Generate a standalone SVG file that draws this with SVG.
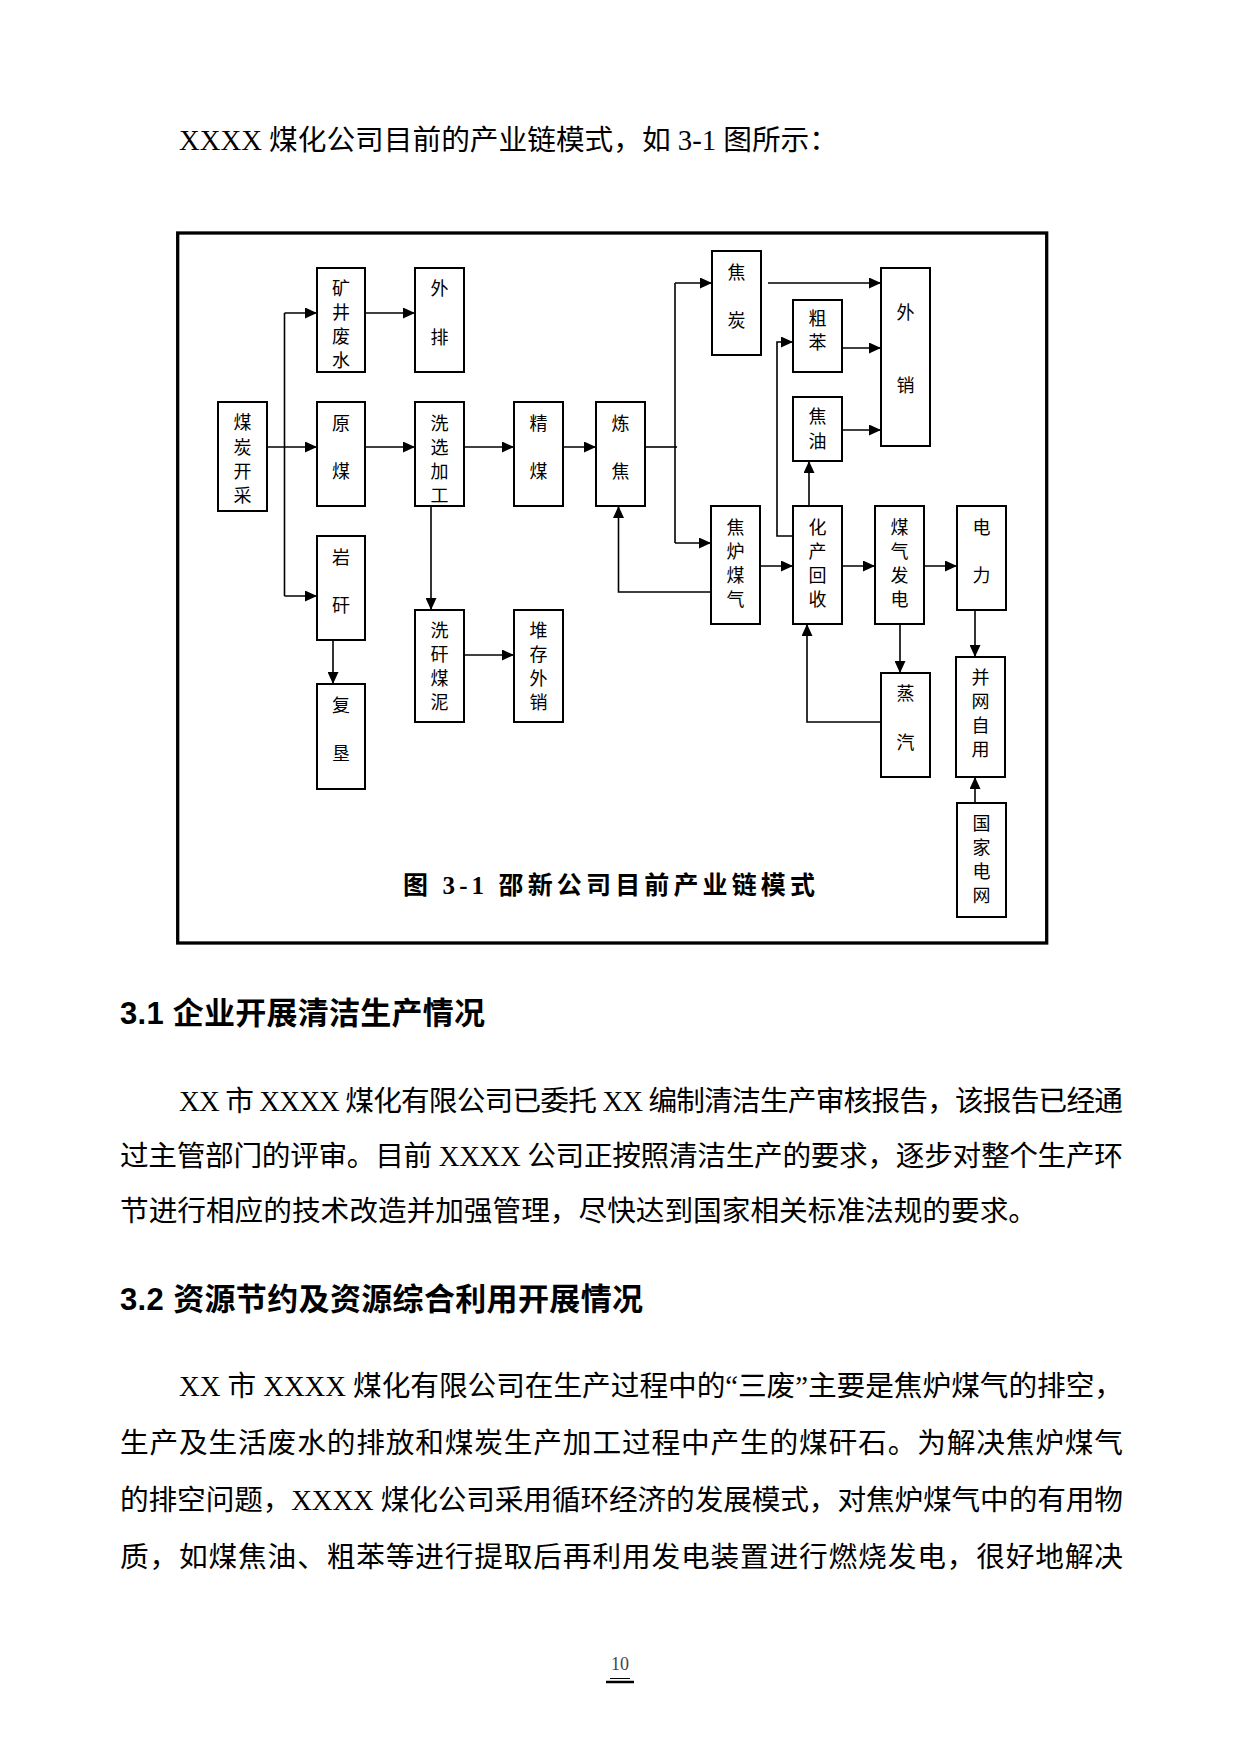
<svg xmlns="http://www.w3.org/2000/svg" width="1241" height="1754" viewBox="0 0 1241 1754">
<style>
.page{fill:#fff}
.frame{fill:none;stroke:#000;stroke-width:3.3}
.box{fill:#fff;stroke:#000;stroke-width:2}
.bt{font-family:"Noto Sans CJK SC","Noto Sans CJK JP",sans-serif;font-size:18px;fill:#000;text-anchor:middle}
.ln{fill:none;stroke:#000;stroke-width:1.6}
.body{font-family:"Liberation Serif","Noto Sans CJK SC",serif;font-size:28.7px;fill:#000}
.head{font-family:"Liberation Sans","Noto Sans CJK SC",sans-serif;font-size:31px;font-weight:bold;fill:#000}
.cap{font-family:"Liberation Serif","Noto Sans CJK SC",serif;font-size:25px;font-weight:bold;fill:#000}
.pn{font-family:"Liberation Serif",serif;font-size:18px;fill:#444;text-anchor:middle}
</style>
<defs>
<marker id="ah" markerUnits="userSpaceOnUse" viewBox="0 0 12 11" refX="12" refY="5.5" markerWidth="12" markerHeight="11" orient="auto">
<path d="M0,0 L12,5.5 L0,11 z" fill="#000"/>
</marker>
</defs>
<rect class="page" x="0" y="0" width="1241" height="1754"/>

<text class="body" x="179" y="150">XXXX 煤化公司目前的产业链模式，如 3-1 图所示：</text>

<rect class="frame" x="177.7" y="233" width="869" height="710"/>

<g id="connectors">
<polyline class="ln" points="267,447 317,447" marker-end="url(#ah)"/>
<polyline class="ln" points="284.5,313 284.5,596"/>
<polyline class="ln" points="284.5,313 317,313" marker-end="url(#ah)"/>
<polyline class="ln" points="284.5,596 317,596" marker-end="url(#ah)"/>
<polyline class="ln" points="365,313 415,313" marker-end="url(#ah)"/>
<polyline class="ln" points="365,447 415,447" marker-end="url(#ah)"/>
<polyline class="ln" points="464,447 514,447" marker-end="url(#ah)"/>
<polyline class="ln" points="563,447 596,447" marker-end="url(#ah)"/>
<polyline class="ln" points="431,506 431,610" marker-end="url(#ah)"/>
<polyline class="ln" points="464,655 514,655" marker-end="url(#ah)"/>
<polyline class="ln" points="333,640 333,684" marker-end="url(#ah)"/>
<polyline class="ln" points="645,447 677,447"/>
<polyline class="ln" points="675,283 675,543"/>
<polyline class="ln" points="675,283 712,283" marker-end="url(#ah)"/>
<polyline class="ln" points="675,543 711,543" marker-end="url(#ah)"/>
<polyline class="ln" points="768,283 881,283" marker-end="url(#ah)"/>
<polyline class="ln" points="842,348 881,348" marker-end="url(#ah)"/>
<polyline class="ln" points="842,430 881,430" marker-end="url(#ah)"/>
<polyline class="ln" points="809,506 809,461" marker-end="url(#ah)"/>
<polyline class="ln" points="793,536 777,536 777,342 793,342" marker-end="url(#ah)"/>
<polyline class="ln" points="760,566 793,566" marker-end="url(#ah)"/>
<polyline class="ln" points="842,566 875,566" marker-end="url(#ah)"/>
<polyline class="ln" points="924,566 957,566" marker-end="url(#ah)"/>
<polyline class="ln" points="711,592 618.5,592 618.5,506" marker-end="url(#ah)"/>
<polyline class="ln" points="900,624 900,673" marker-end="url(#ah)"/>
<polyline class="ln" points="881,722 807,722 807,624" marker-end="url(#ah)"/>
<polyline class="ln" points="975,610 975,657" marker-end="url(#ah)"/>
<polyline class="ln" points="975,803 975,777" marker-end="url(#ah)"/>
</g>

<g id="n-meitankaicai"><rect class="box" x="218" y="402" width="49" height="109"/>
<text class="bt" x="242.5" y="429">煤</text><text class="bt" x="242.5" y="454">炭</text><text class="bt" x="242.5" y="478">开</text><text class="bt" x="242.5" y="502">采</text></g>
<g id="n-kuangjingfeishui"><rect class="box" x="317" y="268" width="48" height="104"/>
<text class="bt" x="341" y="295">矿</text><text class="bt" x="341" y="319">井</text><text class="bt" x="341" y="343">废</text><text class="bt" x="341" y="367">水</text></g>
<g id="n-waipai"><rect class="box" x="415" y="268" width="49" height="104"/>
<text class="bt" x="439.5" y="295">外</text><text class="bt" x="439.5" y="344">排</text></g>
<g id="n-yuanmei"><rect class="box" x="317" y="402" width="48" height="104"/>
<text class="bt" x="341" y="430">原</text><text class="bt" x="341" y="478">煤</text></g>
<g id="n-xixuanjiagong"><rect class="box" x="415" y="402" width="49" height="104"/>
<text class="bt" x="439.5" y="430">洗</text><text class="bt" x="439.5" y="454">选</text><text class="bt" x="439.5" y="478">加</text><text class="bt" x="439.5" y="502">工</text></g>
<g id="n-jingmei"><rect class="box" x="514" y="402" width="49" height="104"/>
<text class="bt" x="538.5" y="430">精</text><text class="bt" x="538.5" y="478">煤</text></g>
<g id="n-lianjiao"><rect class="box" x="596" y="402" width="49" height="104"/>
<text class="bt" x="620.5" y="430">炼</text><text class="bt" x="620.5" y="478">焦</text></g>
<g id="n-jiaotan"><rect class="box" x="712" y="251" width="49" height="104"/>
<text class="bt" x="736.5" y="279">焦</text><text class="bt" x="736.5" y="327">炭</text></g>
<g id="n-cuben"><rect class="box" x="793" y="300" width="49" height="72"/>
<text class="bt" x="817.5" y="325">粗</text><text class="bt" x="817.5" y="349">苯</text></g>
<g id="n-jiaoyou"><rect class="box" x="793" y="397" width="49" height="64"/>
<text class="bt" x="817.5" y="423">焦</text><text class="bt" x="817.5" y="448">油</text></g>
<g id="n-waixiao"><rect class="box" x="881" y="268" width="49" height="178"/>
<text class="bt" x="905.5" y="319">外</text><text class="bt" x="905.5" y="392">销</text></g>
<g id="n-jiaolumeiqi"><rect class="box" x="711" y="506" width="49" height="118"/>
<text class="bt" x="735.5" y="534">焦</text><text class="bt" x="735.5" y="558">炉</text><text class="bt" x="735.5" y="582">煤</text><text class="bt" x="735.5" y="606">气</text></g>
<g id="n-huachanhuishou"><rect class="box" x="793" y="506" width="49" height="118"/>
<text class="bt" x="817.5" y="534">化</text><text class="bt" x="817.5" y="558">产</text><text class="bt" x="817.5" y="582">回</text><text class="bt" x="817.5" y="606">收</text></g>
<g id="n-meiqifadian"><rect class="box" x="875" y="506" width="49" height="118"/>
<text class="bt" x="899.5" y="534">煤</text><text class="bt" x="899.5" y="558">气</text><text class="bt" x="899.5" y="582">发</text><text class="bt" x="899.5" y="606">电</text></g>
<g id="n-dianli"><rect class="box" x="957" y="506" width="49" height="104"/>
<text class="bt" x="981.5" y="534">电</text><text class="bt" x="981.5" y="582">力</text></g>
<g id="n-zhengqi"><rect class="box" x="881" y="673" width="49" height="104"/>
<text class="bt" x="905.5" y="700">蒸</text><text class="bt" x="905.5" y="749">汽</text></g>
<g id="n-bingwangziyong"><rect class="box" x="956" y="657" width="49" height="120"/>
<text class="bt" x="980.5" y="684">并</text><text class="bt" x="980.5" y="708">网</text><text class="bt" x="980.5" y="732">自</text><text class="bt" x="980.5" y="756">用</text></g>
<g id="n-guojiadianwang"><rect class="box" x="957" y="803" width="49" height="114"/>
<text class="bt" x="981.5" y="830">国</text><text class="bt" x="981.5" y="854">家</text><text class="bt" x="981.5" y="878">电</text><text class="bt" x="981.5" y="902">网</text></g>
<g id="n-yangan"><rect class="box" x="317" y="536" width="48" height="104"/>
<text class="bt" x="341" y="564">岩</text><text class="bt" x="341" y="612">矸</text></g>
<g id="n-fuken"><rect class="box" x="317" y="684" width="48" height="105"/>
<text class="bt" x="341" y="712">复</text><text class="bt" x="341" y="760">垦</text></g>
<g id="n-xiganmeini"><rect class="box" x="415" y="610" width="49" height="112"/>
<text class="bt" x="439.5" y="637">洗</text><text class="bt" x="439.5" y="661">矸</text><text class="bt" x="439.5" y="685">煤</text><text class="bt" x="439.5" y="709">泥</text></g>
<g id="n-duicunwaixiao"><rect class="box" x="514" y="610" width="49" height="112"/>
<text class="bt" x="538.5" y="637">堆</text><text class="bt" x="538.5" y="661">存</text><text class="bt" x="538.5" y="685">外</text><text class="bt" x="538.5" y="709">销</text></g>

<text class="cap" x="403" y="894" textLength="412" lengthAdjust="spacing">图 3-1 邵新公司目前产业链模式</text>

<text class="head" x="120" y="1024" textLength="365" lengthAdjust="spacing">3.1 企业开展清洁生产情况</text>
<text class="body" x="179" y="1111" textLength="944" lengthAdjust="spacing">XX 市 XXXX 煤化有限公司已委托 XX 编制清洁生产审核报告，该报告已经通</text>
<text class="body" x="120" y="1166" textLength="1003" lengthAdjust="spacing">过主管部门的评审。目前 XXXX 公司正按照清洁生产的要求，逐步对整个生产环</text>
<text class="body" x="120" y="1221" textLength="917" lengthAdjust="spacing">节进行相应的技术改造并加强管理，尽快达到国家相关标准法规的要求。</text>

<text class="head" x="120" y="1310" textLength="523" lengthAdjust="spacing">3.2 资源节约及资源综合利用开展情况</text>
<text class="body" x="179" y="1396" textLength="944" lengthAdjust="spacing">XX 市 XXXX 煤化有限公司在生产过程中的“三废”主要是焦炉煤气的排空，</text>
<text class="body" x="120" y="1453" textLength="1003" lengthAdjust="spacing">生产及生活废水的排放和煤炭生产加工过程中产生的煤矸石。为解决焦炉煤气</text>
<text class="body" x="120" y="1510" textLength="1003" lengthAdjust="spacing">的排空问题，XXXX 煤化公司采用循环经济的发展模式，对焦炉煤气中的有用物</text>
<text class="body" x="120" y="1567" textLength="1003" lengthAdjust="spacing">质，如煤焦油、粗苯等进行提取后再利用发电装置进行燃烧发电，很好地解决</text>

<text class="pn" x="620" y="1670">10</text>
<line x1="610" y1="1678.5" x2="630" y2="1678.5" stroke="#000" stroke-width="1"/>
<line x1="606" y1="1682" x2="634" y2="1682" stroke="#000" stroke-width="2.5"/>
</svg>
